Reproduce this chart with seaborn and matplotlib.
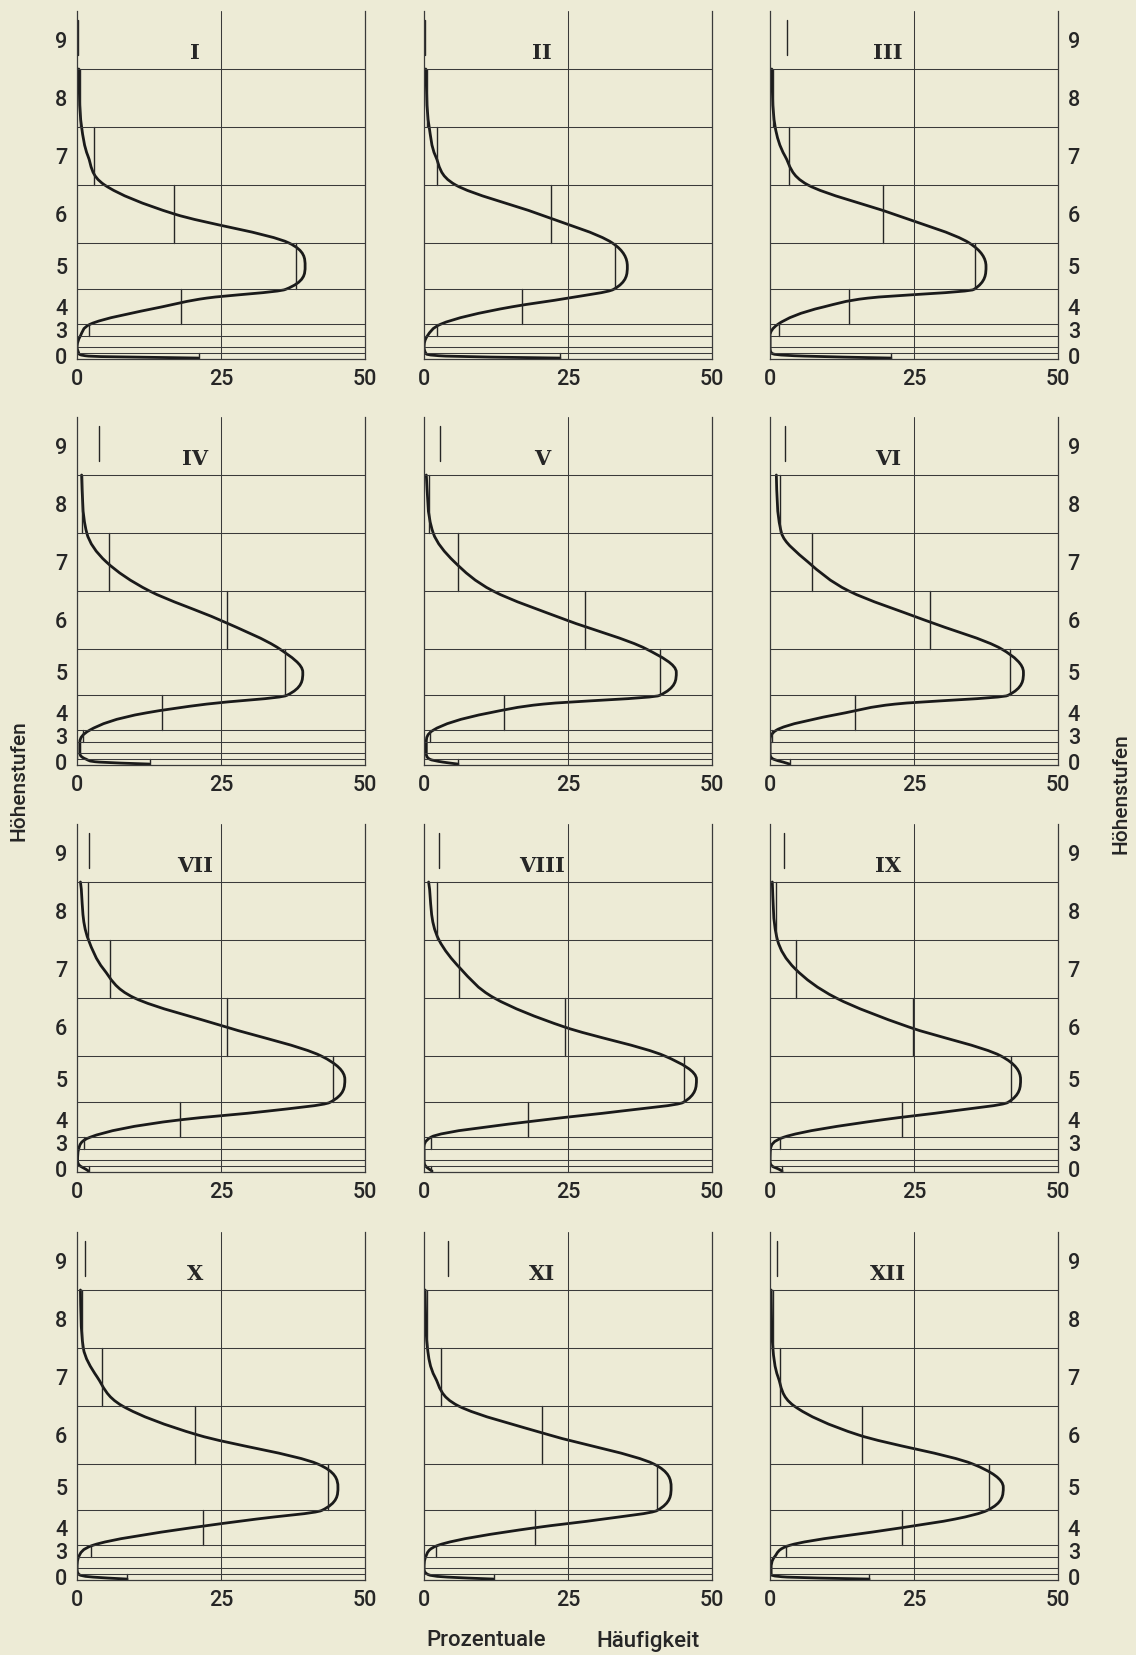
import numpy as np
import pandas as pd
import seaborn as sns
import matplotlib.pyplot as plt
from matplotlib.path import Path
from matplotlib.patches import PathPatch

# Monate (Tafeln) und Hoehenstufen
monate = ["I", "II", "III", "IV", "V", "VI", "VII", "VIII", "IX", "X", "XI", "XII"]
stufen = [0, 1, 2, 3, 4, 5, 6, 7, 8, 9]
grenzen = [0, 50, 100, 200, 300, 600, 1000, 1500, 2000, 2500, 3000]   # m
beschriftet = [0, 3, 4, 5, 6, 7, 8, 9]
x_ticks = [0, 25, 50]

# prozentuale Haeufigkeit je Hoehenstufe 0..9
haeufigkeit = [
    [21.1, 0, 0, 2.0, 18.1, 38.0, 16.9, 3.0, 0.6, 0.2],
    [23.6, 0, 0, 2.3, 17.1, 33.1, 22.0, 2.2, 0.5, 0.2],
    [21.0, 0, 0, 1.5, 13.8, 35.6, 19.7, 3.3, 0.6, 3.0],
    [12.6, 0, 0, 1.0, 14.7, 36.1, 26.0, 5.6, 0.9, 3.9],
    [5.9, 0, 0, 1.0, 13.9, 41.0, 27.9, 5.9, 0.8, 2.8],
    [3.4, 0, 0, 0.3, 14.8, 41.6, 27.8, 7.3, 1.7, 2.6],
    [2.0, 0, 0, 1.3, 17.9, 44.4, 26.0, 5.8, 1.9, 2.0],
    [1.2, 0, 0, 1.2, 18.0, 45.2, 24.5, 6.1, 2.2, 2.6],
    [2.1, 0, 0, 1.7, 23.0, 41.8, 24.8, 4.5, 1.0, 2.4],
    [8.7, 0, 0, 2.4, 21.8, 43.5, 20.4, 4.4, 0.9, 1.4],
    [12.1, 0, 0, 2.0, 19.2, 40.4, 20.4, 3.0, 0.5, 4.2],
    [17.2, 0, 0, 2.8, 23.0, 38.0, 16.0, 1.7, 0.5, 1.2],
]

kurve_hoehe = [2500, 2000, 1750, 1500, 1250, 1000, 800, 600, 525, 450, 300, 200, 100, 50, 25, 8]
kurve = [
    [0.3, 0.8, 1.9, 4.8, 16.9, 36.8, 39.6, 36.2, 22.5, 14.8, 2.3, 0.6, 0.0, 0.3, 2.0, 21.1],
    [0.3, 0.9, 2.0, 5.5, 19.9, 32.7, 35.3, 32.9, 25.0, 15.3, 2.9, 0.6, 0.0, 0.3, 3.8, 23.6],
    [0.3, 0.9, 2.6, 6.6, 21.4, 34.6, 37.5, 35.4, 17.0, 9.4, 1.4, 0.0, 0.0, 0.3, 6.0, 21.0],
    [0.8, 1.7, 5.1, 12.6, 24.8, 35.2, 39.2, 36.4, 22.5, 12.1, 2.2, 0.5, 0.5, 1.6, 3.9, 12.6],
    [0.4, 1.6, 5.3, 12.0, 24.7, 38.6, 43.8, 40.9, 20.7, 11.4, 1.6, 0.4, 0.4, 1.0, 3.3, 5.9],
    [1.1, 2.0, 6.6, 13.7, 26.8, 40.2, 44.0, 41.3, 21.7, 13.1, 1.1, 0.0, 0.0, 0.6, 2.3, 3.4],
    [0.6, 2.0, 4.6, 10.0, 25.9, 42.4, 46.5, 43.9, 33.1, 18.0, 2.3, 0.3, 0.1, 0.6, 1.5, 2.0],
    [0.8, 2.6, 6.4, 12.2, 24.4, 41.8, 47.3, 45.0, 34.2, 20.9, 1.2, 0.0, 0.0, 0.3, 0.9, 1.4],
    [0.4, 1.3, 4.4, 11.5, 24.1, 40.1, 43.5, 41.3, 31.5, 19.5, 2.4, 0.1, 0.0, 0.4, 1.5, 2.1],
    [0.6, 1.1, 3.5, 7.9, 21.0, 41.8, 45.3, 42.5, 31.1, 19.8, 2.8, 0.3, 0.0, 0.3, 2.8, 8.7],
    [0.2, 0.6, 1.9, 6.0, 21.8, 39.9, 42.9, 40.5, 31.1, 19.2, 2.5, 0.3, 0.0, 0.6, 4.1, 12.1],
    [0.2, 0.5, 1.4, 4.2, 15.4, 35.2, 40.5, 37.7, 32.1, 22.8, 3.5, 0.8, 0.2, 0.2, 3.0, 17.2],
]

papier = "#edebd6"
tinte = "#262626"
gitter = "#3a3a3a"

sns.set_style("white", {"axes.facecolor": papier, "figure.facecolor": papier})
plt.rcParams["font.family"] = ["Roboto", "DejaVu Sans"]


def glatte_kurve(ax, xs, ys, **kw):
    # Hermite-Kurve x(h) mit Dreipunkt-Steigungen (Fritsch-Carlson begrenzt)
    x = np.asarray(xs, float)
    y = np.asarray(ys, float)
    h = np.diff(y)
    d = np.diff(x) / h
    m = np.zeros_like(x)
    m[0], m[-1] = d[0], d[-1]
    for i in range(1, len(x) - 1):
        if d[i - 1] * d[i] > 0:
            m[i] = (h[i] * d[i - 1] + h[i - 1] * d[i]) / (h[i - 1] + h[i])
    for i in range(len(d)):
        if d[i] == 0:
            m[i] = m[i + 1] = 0
            continue
        a, b = m[i] / d[i], m[i + 1] / d[i]
        if a * a + b * b > 9:
            t = 3 / np.hypot(a, b)
            m[i], m[i + 1] = t * a * d[i], t * b * d[i]
    verts = [(x[0], y[0])]
    codes = [Path.MOVETO]
    for i in range(len(h)):
        verts += [(x[i] + m[i] * h[i] / 3, y[i] + h[i] / 3),
                  (x[i + 1] - m[i + 1] * h[i] / 3, y[i + 1] - h[i] / 3),
                  (x[i + 1], y[i + 1])]
        codes += [Path.CURVE4] * 3
    ax.add_patch(PathPatch(Path(verts, codes), fill=False, **kw))


fig = plt.figure(figsize=(11.36, 16.55), dpi=100)

links = [77 / 1136, 424 / 1136, 770 / 1136]
unten = [1 - 359 / 1655, 1 - 765 / 1655, 1 - 1172 / 1655, 1 - 1580 / 1655]
breite = 288 / 1136
hoehe = 348 / 1655

mitten = [(grenzen[i] + grenzen[i + 1]) / 2 for i in range(10)]

for k, monat in enumerate(monate):
    zeile, spalte = divmod(k, 3)
    ax = fig.add_axes([links[spalte], unten[zeile], breite, hoehe])

    # Stufenwerte als senkrechte Striche
    rows = []
    for s in stufen:
        lo, hi = grenzen[s], grenzen[s + 1]
        if s == 9:
            lo, hi = 2620, 2920
        rows.append({"stufe": s, "wert": haeufigkeit[k][s], "hoehe": lo})
        rows.append({"stufe": s, "wert": haeufigkeit[k][s], "hoehe": hi})
    df = pd.DataFrame(rows)
    sns.lineplot(data=df, x="wert", y="hoehe", units="stufe", estimator=None,
                 sort=False, color=tinte, lw=1.0, ax=ax, legend=False)

    ax.hlines(grenzen[1:-1], 0, 50, color=gitter, lw=0.75)
    ax.axvline(25, color=gitter, lw=0.75)

    glatte_kurve(ax, kurve[k], kurve_hoehe, color="#1a1a1a", lw=2.0,
                 capstyle="round", joinstyle="round")

    ax.text(20.5, 2640, monat, ha="center", va="center", fontsize=15,
            fontweight="bold", family="DejaVu Serif", color=tinte)

    ax.set_xlim(0, 50)
    ax.set_ylim(0, 3000)
    ax.set_xlabel("")
    ax.set_ylabel("")
    ax.set_xticks(x_ticks)
    ax.set_xticklabels([str(v) for v in x_ticks], fontsize=15.5,
                       fontweight="medium", color=tinte)
    ax.set_yticks([mitten[s] for s in beschriftet])
    ax.set_yticklabels([str(s) for s in beschriftet], fontsize=15.5,
                       fontweight="medium", color=tinte)
    ax.tick_params(length=0, pad=7)

    for side in ["left", "right", "bottom"]:
        ax.spines[side].set_visible(True)
        ax.spines[side].set_color(gitter)
        ax.spines[side].set_linewidth(0.9)
    ax.spines["top"].set_visible(False)

    if spalte == 1:
        ax.set_yticklabels([])
    elif spalte == 2:
        ax.yaxis.tick_right()
        ax.tick_params(length=0, pad=7)

fig.text(19 / 1136, 1 - 781 / 1655, "Höhenstufen", rotation=90, ha="center",
         va="center", fontsize=15, fontweight="medium", color=tinte)
fig.text(1121 / 1136, 1 - 794 / 1655, "Höhenstufen", rotation=90, ha="center",
         va="center", fontsize=15, fontweight="medium", color=tinte)
fig.text(486 / 1136, 1 - 1641 / 1655, "Prozentuale", ha="center", va="center",
         fontsize=16, fontweight="medium", color=tinte)
fig.text(648 / 1136, 1 - 1641 / 1655, "Häufigkeit", ha="center", va="center",
         fontsize=16, fontweight="medium", color=tinte)

fig.savefig("out.png", dpi=100, facecolor=papier)
